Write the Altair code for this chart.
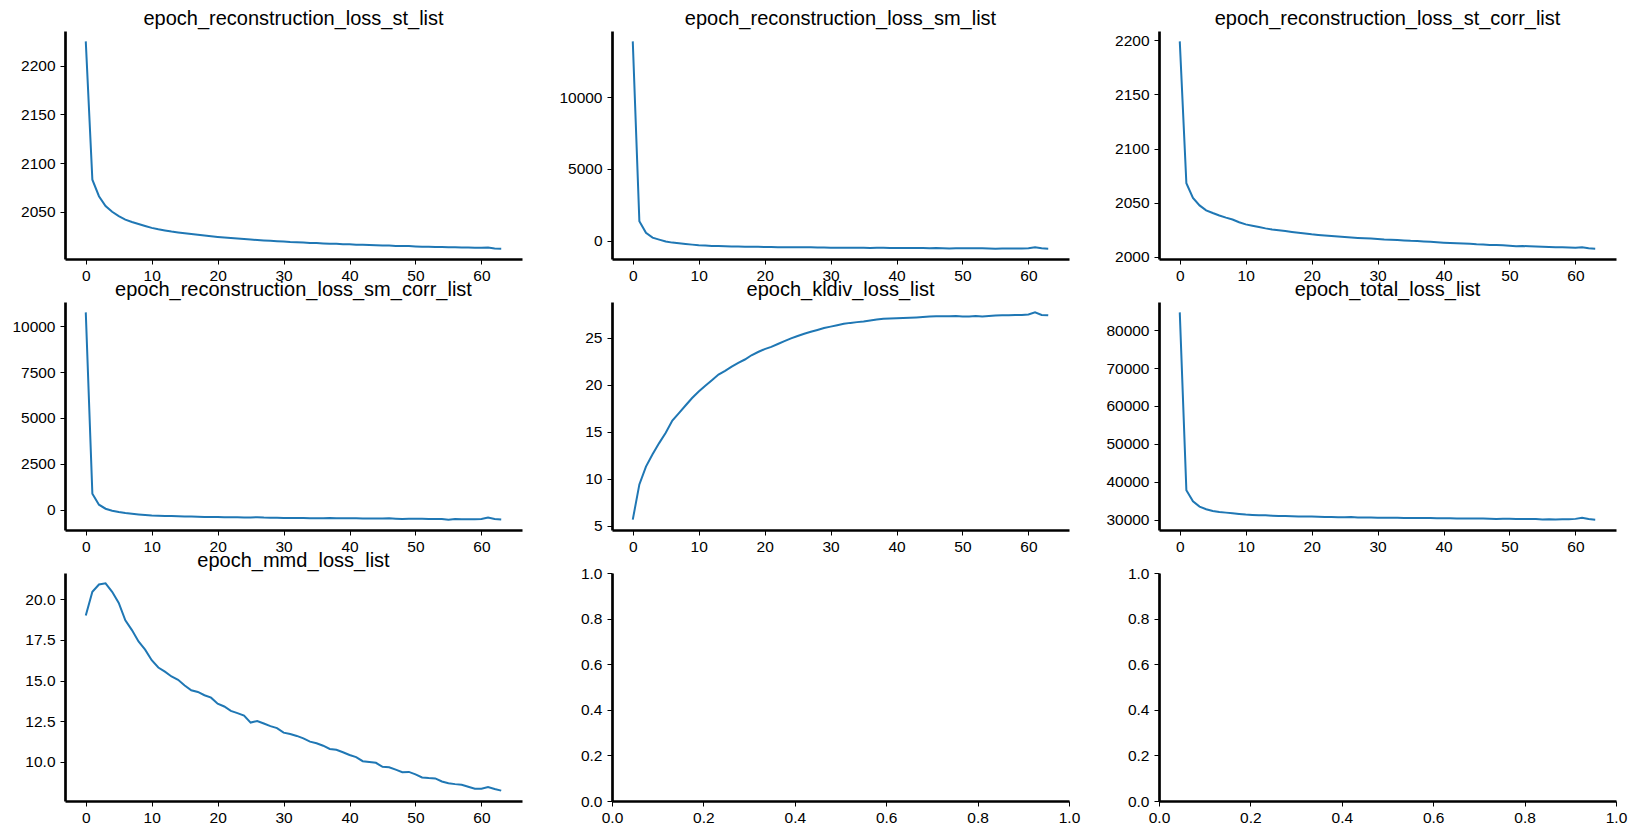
import altair as alt
import pandas as pd

epochs = list(range(64))

titles = [
    "epoch_reconstruction_loss_st_list",
    "epoch_reconstruction_loss_sm_list",
    "epoch_reconstruction_loss_st_corr_list",
    "epoch_reconstruction_loss_sm_corr_list",
    "epoch_kldiv_loss_list",
    "epoch_total_loss_list",
    "epoch_mmd_loss_list",
]

loss_st = [2225, 2083, 2066, 2056, 2050, 2045.5, 2042, 2039.5, 2037.5, 2035.5,
           2033.5, 2032, 2030.8, 2029.7, 2028.8, 2028, 2027.2, 2026.4, 2025.6, 2024.9,
           2024.2, 2023.6, 2023, 2022.5, 2022, 2021.5, 2021, 2020.6, 2020.2, 2019.8,
           2019.4, 2018.9, 2018.7, 2018.4, 2018.1, 2017.9, 2017.6, 2017.3, 2017.1, 2016.8,
           2016.6, 2016.3, 2016.1, 2015.9, 2015.7, 2015.5, 2015.3, 2015, 2015, 2014.8,
           2014.5, 2014.2, 2014.2, 2014, 2013.8, 2013.6, 2013.5, 2013.4, 2013.3, 2013.2,
           2013.1, 2013.3, 2012.4, 2012.2]

loss_sm = [13890, 1350, 540, 210, 70, -60, -140, -190, -230, -280,
           -320, -340, -370, -380, -395, -405, -410, -420, -430, -435,
           -445, -450, -455, -460, -465, -470, -455, -470, -480, -485,
           -490, -495, -495, -500, -505, -505, -510, -500, -505, -510,
           -515, -515, -520, -520, -520, -525, -515, -530, -545, -535,
           -535, -540, -540, -540, -545, -560, -545, -555, -550, -550,
           -530, -470, -540, -560]

loss_st_corr = [2199, 2068, 2054.5, 2047.5, 2043, 2040.5, 2038.2, 2036.2, 2034.5, 2032,
                2030, 2028.8, 2027.5, 2026.3, 2025.3, 2024.6, 2023.8, 2023, 2022.3, 2021.5,
                2020.8, 2020.3, 2019.8, 2019.2, 2018.7, 2018.3, 2017.9, 2017.5, 2017.2, 2016.9,
                2016.6, 2016.1, 2015.9, 2015.6, 2015.2, 2014.8, 2014.6, 2014.2, 2013.9, 2013.5,
                2013.1, 2012.8, 2012.6, 2012.3, 2012, 2011.6, 2011.4, 2011, 2010.9, 2010.7,
                2010.3, 2009.9, 2010, 2009.7, 2009.5, 2009.3, 2009.1, 2008.9, 2008.8, 2008.6,
                2008.5, 2008.9, 2007.9, 2007.6]

loss_sm_corr = [10750, 870, 275, 55, -55, -125, -180, -220, -255, -285,
                -310, -325, -345, -345, -360, -370, -375, -385, -390, -390,
                -400, -405, -410, -415, -420, -420, -410, -430, -435, -440,
                -445, -450, -450, -455, -460, -460, -465, -455, -460, -465,
                -470, -470, -475, -475, -480, -480, -470, -485, -500, -495,
                -495, -495, -500, -500, -505, -540, -510, -525, -520, -520,
                -500, -430, -500, -530]

loss_kldiv = [5.65, 9.4, 11.3, 12.6, 13.8, 14.9, 16.2, 17.0, 17.8, 18.6,
              19.3, 19.9, 20.5, 21.1, 21.5, 21.95, 22.35, 22.7, 23.15, 23.5,
              23.8, 24.05, 24.35, 24.65, 24.95, 25.2, 25.45, 25.65, 25.85, 26.05,
              26.2, 26.35, 26.5, 26.6, 26.68, 26.75, 26.85, 26.95, 27.05, 27.07,
              27.1, 27.12, 27.15, 27.18, 27.22, 27.27, 27.3, 27.3, 27.3, 27.33,
              27.27, 27.28, 27.33, 27.27, 27.32, 27.38, 27.4, 27.4, 27.43, 27.45,
              27.5, 27.72, 27.45, 27.4]

loss_total = [84700, 37750, 34850, 33450, 32750, 32300, 32030, 31850, 31680, 31500,
              31350, 31250, 31150, 31150, 31050, 30970, 30950, 30900, 30850, 30850,
              30800, 30750, 30720, 30680, 30650, 30640, 30700, 30580, 30560, 30540,
              30530, 30500, 30480, 30470, 30450, 30440, 30400, 30450, 30420, 30380,
              30350, 30340, 30320, 30310, 30300, 30290, 30330, 30250, 30180, 30220,
              30230, 30200, 30190, 30180, 30150, 30050, 30130, 30050, 30080, 30080,
              30200, 30500, 30150, 30000]

loss_mmd = [18.99, 20.45, 20.9, 20.97, 20.45, 19.77, 18.7, 18.1, 17.4, 16.9,
            16.25, 15.8, 15.55, 15.25, 15.05, 14.7, 14.4, 14.3, 14.1, 13.95,
            13.58, 13.41, 13.14, 13.0, 12.85, 12.42, 12.52, 12.36, 12.2, 12.08,
            11.8, 11.72, 11.6, 11.45, 11.25, 11.15, 11.0, 10.8, 10.75, 10.6,
            10.43, 10.3, 10.05, 10.0, 9.95, 9.7, 9.68, 9.53, 9.37, 9.39,
            9.24, 9.05, 9.01, 8.99, 8.8, 8.7, 8.64, 8.6, 8.48, 8.36,
            8.36, 8.46, 8.34, 8.24]

x_ticks = [0, 10, 20, 30, 40, 50, 60]
yticks_st = [2050, 2100, 2150, 2200]
yticks_sm = [0, 5000, 10000]
yticks_st_corr = [2000, 2050, 2100, 2150, 2200]
yticks_sm_corr = [0, 2500, 5000, 7500, 10000]
yticks_kldiv = [5, 10, 15, 20, 25]
yticks_total = [30000, 40000, 50000, 60000, 70000, 80000]
yticks_mmd = [10.0, 12.5, 15.0, 17.5, 20.0]
unit_ticks = [0.0, 0.2, 0.4, 0.6, 0.8, 1.0]

FONT = "Liberation Sans"
W, H = 457, 228
BLUE = "#1f77b4"


def panel(values, title, yticks, yfmt):
    lo, hi = min(values), max(values)
    m = 0.05 * (hi - lo)
    df = pd.DataFrame({"epoch": epochs, "value": values})
    return alt.Chart(df, title=alt.TitleParams(
        title, frame="group", anchor="middle", baseline="alphabetic", offset=-14,
        fontSize=20, font=FONT, fontWeight="normal", color="black",
    )).mark_line(color=BLUE, strokeWidth=2).encode(
        x=alt.X("epoch:Q", scale=alt.Scale(domain=[-3.15, 66.15], nice=False, zero=False),
                axis=alt.Axis(values=x_ticks, format="d", title=None)),
        y=alt.Y("value:Q", scale=alt.Scale(domain=[lo - m, hi + m], nice=False, zero=False),
                axis=alt.Axis(values=yticks, format=yfmt, title=None)),
    ).properties(width=W, height=H)


def empty_panel():
    df = pd.DataFrame({"x": [0.0], "y": [0.0]})
    return alt.Chart(df).mark_point(opacity=0).encode(
        x=alt.X("x:Q", scale=alt.Scale(domain=[0, 1], nice=False, zero=False),
                axis=alt.Axis(values=unit_ticks, format=".1f", title=None)),
        y=alt.Y("y:Q", scale=alt.Scale(domain=[0, 1], nice=False, zero=False),
                axis=alt.Axis(values=unit_ticks, format=".1f", title=None)),
    ).properties(width=W, height=H)


p1 = panel(loss_st, titles[0], yticks_st, "d")
p2 = panel(loss_sm, titles[1], yticks_sm, "d")
p3 = panel(loss_st_corr, titles[2], yticks_st_corr, "d")
p4 = panel(loss_sm_corr, titles[3], yticks_sm_corr, "d")
p5 = panel(loss_kldiv, titles[4], yticks_kldiv, "d")
p6 = panel(loss_total, titles[5], yticks_total, "d")
p7 = panel(loss_mmd, titles[6], yticks_mmd, ".1f")
p8 = empty_panel()
p9 = empty_panel()

chart = alt.concat(
    p1, p2, p3, p4, p5, p6, p7, p8, p9,
    columns=3,
    spacing=alt.RowColnumber(row=43, column=90),
    bounds="flush",
).properties(
    padding={"left": 11, "top": 9, "right": 5, "bottom": 5},
    background="white",
).configure_view(stroke=None).configure_axis(
    grid=False,
    domainColor="black",
    domainWidth=2.7,
    tickColor="black",
    tickWidth=1,
    tickSize=5,
    labelFont=FONT,
    labelFontSize=15.5,
    labelColor="black",
    labelFlush=False,
    labelOverlap=False,
).configure_axisX(labelPadding=4.5).configure_axisY(labelPadding=5)

chart.save("out.html", embed_options={"renderer": "svg", "actions": False})
